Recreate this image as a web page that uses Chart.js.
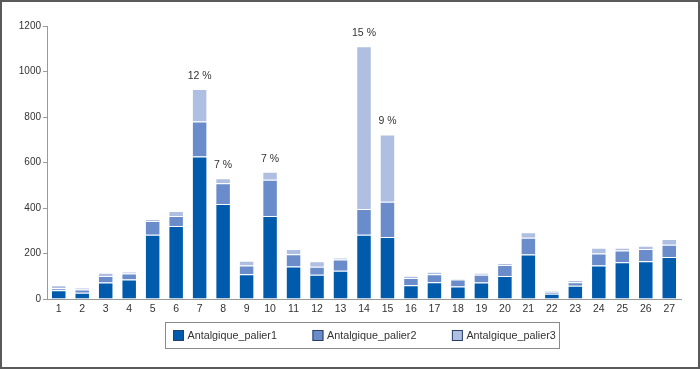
<!DOCTYPE html>
<html>
<head>
<meta charset="utf-8">
<script src="https://cdn.jsdelivr.net/npm/chart.js@4"></script>
<style>
  body { margin: 0; background: #fff; }
  .frame { width: 700px; height: 369px; border: 2px solid #5a5a5a; box-sizing: border-box; }
  canvas { display: block; }
</style>
</head>
<body>
<div class="frame"><canvas id="chart" width="696" height="365"></canvas></div>
<script>
const categories = ['1','2','3','4','5','6','7','8','9','10','11','12','13','14','15','16','17','18','19','20','21','22','23','24','25','26','27'];
const palier1 = [38, 28, 73, 86, 282, 321, 626, 418, 109, 365, 143, 107, 124, 282, 273, 60, 74, 55, 72, 101, 196, 23, 58, 147, 161, 166, 185];
const palier2 = [9, 14, 28, 26, 61, 44, 154, 91, 38, 159, 54, 35, 50, 114, 155, 32, 35, 31, 35, 48, 73, 9, 16, 53, 52, 54, 54];
const palier3 = [13, 8, 14, 9, 9, 22, 143, 22, 21, 35, 23, 24, 7, 715, 295, 10, 11, 3, 8, 9, 24, 4, 9, 25, 12, 14, 25];
// percentage shown above a few bars
const topLabels = ['', '', '', '', '', '', '12 %', '7 %', '', '7 %', '', '', '', '15 %', '9 %', '', '', '', '', '', '', '', '', '', '', '', ''];
const yTicks = [0, 200, 400, 600, 800, 1000, 1200];

const textColor = '#333';
const fontFamily = '"Liberation Sans", Arial, sans-serif';

const topLabelPlugin = {
  id: 'topLabels',
  afterDatasetsDraw(chart) {
    const ctx = chart.ctx;
    const meta = chart.getDatasetMeta(2);
    ctx.save();
    ctx.font = '10.5px ' + fontFamily;
    ctx.fillStyle = textColor;
    ctx.textAlign = 'center';
    ctx.textBaseline = 'middle';
    meta.data.forEach((bar, i) => {
      if (topLabels[i]) ctx.fillText(topLabels[i], bar.x, bar.y - 13);
    });
    ctx.restore();
  }
};

// legend drawn by hand so the framed box sits like the original
const boxLegendPlugin = {
  id: 'boxLegend',
  afterDraw(chart) {
    const ctx = chart.ctx;
    const sets = chart.data.datasets;
    const sq = 11, gapText = 3.5, gapItem = 35.5;
    ctx.save();
    ctx.font = '10.8px ' + fontFamily;
    const widths = sets.map(ds => sq + gapText + ctx.measureText(ds.label).width);
    const total = widths.reduce((a, b) => a + b, 0) + gapItem * (sets.length - 1);
    const area = chart.chartArea;
    let x = Math.round((area.left + area.right) / 2 - total / 2);
    const yMid = 333.5;

    ctx.strokeStyle = '#8a8a8a';
    ctx.lineWidth = 1;
    ctx.strokeRect(x - 7.5, 320.5, Math.round(total + 11), 26);

    ctx.textBaseline = 'middle';
    sets.forEach((ds, i) => {
      ctx.fillStyle = ds.backgroundColor;
      ctx.fillRect(x, yMid - sq / 2, sq, sq);
      ctx.strokeStyle = '#2a3f66';
      ctx.strokeRect(x + 0.5, yMid - sq / 2 + 0.5, sq - 1, sq - 1);
      ctx.fillStyle = textColor;
      ctx.fillText(ds.label, x + sq + gapText, yMid + 0.5);
      x += widths[i] + gapItem;
    });
    ctx.restore();
  }
};

new Chart(document.getElementById('chart'), {
  type: 'bar',
  data: {
    labels: categories,
    datasets: [
      { label: 'Antalgique_palier1', data: palier1, backgroundColor: 'rgb(0,91,172)' },
      { label: 'Antalgique_palier2', data: palier2, backgroundColor: 'rgb(106,140,202)' },
      { label: 'Antalgique_palier3', data: palier3, backgroundColor: 'rgb(175,191,226)' }
    ]
  },
  options: {
    responsive: false,
    animation: false,
    datasets: {
      bar: {
        barPercentage: 0.66,
        categoryPercentage: 1,
        borderColor: 'rgba(255,255,255,0.7)',
        borderWidth: 1
      }
    },
    layout: { padding: { top: 24, right: 17, bottom: 51, left: 0 } },
    plugins: {
      tooltip: { enabled: false },
      legend: { display: false }
    },
    scales: {
      x: {
        stacked: true,
        afterFit(scale) { scale.height = 17; },
        grid: { display: false, drawTicks: false },
        border: { color: '#9a9a9a' },
        ticks: { color: textColor, padding: 4, font: { family: fontFamily, size: 10.5 } }
      },
      y: {
        stacked: true,
        min: 0,
        max: 1200,
        afterBuildTicks(scale) { scale.ticks = yTicks.map(v => ({ value: v })); },
        afterFit(scale) { scale.width = 45; },
        grid: { drawOnChartArea: false, drawTicks: true, tickLength: 4, color: '#9a9a9a' },
        border: { color: '#9a9a9a' },
        ticks: {
          color: textColor,
          padding: 2,
          font: { family: fontFamily, size: 10 },
          callback: v => String(v)
        }
      }
    }
  },
  plugins: [topLabelPlugin, boxLegendPlugin]
});
</script>
</body>
</html>
